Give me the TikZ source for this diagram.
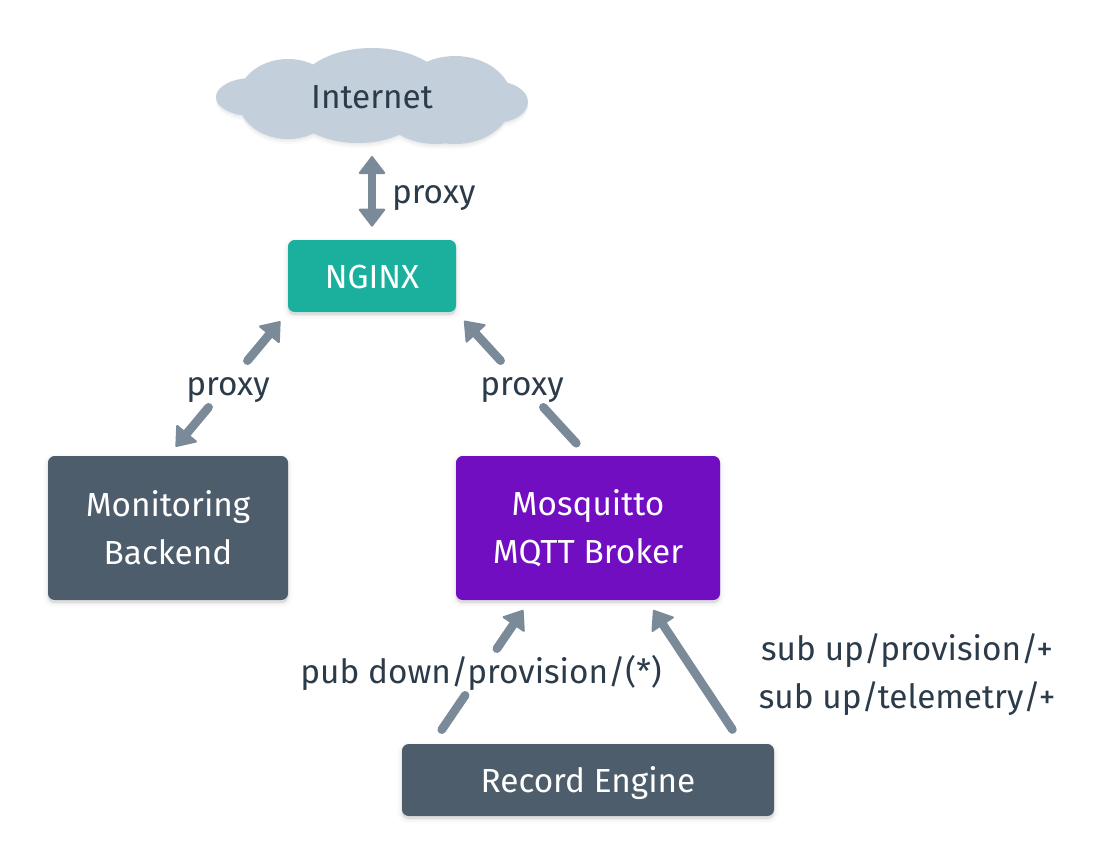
\documentclass[tikz,border=0pt]{standalone}
\usepackage{fontspec}
\setmainfont{Fira Sans}
\usetikzlibrary{arrows.meta, positioning, shadows, calc}
\definecolor{cloudcol}{HTML}{C3D0DB}
\definecolor{arrowcol}{HTML}{7B8A99}
\definecolor{textcol}{HTML}{2B3B4A}
\definecolor{tealcol}{HTML}{1AB09D}
\definecolor{slatecol}{HTML}{4D5D6B}
\definecolor{purplecol}{HTML}{720EC1}
\begin{document}
\begin{tikzpicture}[x=0.75pt, y=-0.75pt, font=\fontsize{25}{36}\selectfont, text=textcol, outer sep=0pt,
    softshadow/.style={
        general shadow={draw=black, fill=black, line width=1.5pt, opacity=.04, shadow yshift=-2pt},
        general shadow={draw=black, fill=black, line width=4pt, opacity=.025, shadow yshift=-2pt},
        general shadow={draw=black, fill=black, line width=7pt, opacity=.015, shadow yshift=-2pt}},
    cloudshadow/.style={
        general shadow={fill=black, opacity=.03, shadow yshift=-1pt},
        general shadow={fill=black, opacity=.03, shadow yshift=-2.5pt},
        general shadow={fill=black, opacity=.02, shadow yshift=-4pt}},
    box/.style={rounded corners=5pt, text=white, align=center, minimum height=54pt, softshadow},
    oneline/.style={text height=20pt, text depth=2pt},
    tipend/.tip={Triangle[round, length=14pt, width=21pt, line width=1.5pt]},
    wire/.style={draw=arrowcol, line width=6.5pt, line cap=round},
    link/.style={wire, -tipend},
    tag/.style={inner sep=0pt, minimum height=35pt, text height=24pt, text depth=6.8pt, text=textcol}]
    \useasboundingbox (0,0) rectangle (1116,864);
    \fill[cloudcol, cloudshadow]
        (252,97) ellipse (36 and 19)
        (288,99) ellipse (50 and 40)
        (372,93) ellipse (76 and 45)
        (358,100) ellipse (70 and 43)
        (455,100) ellipse (57 and 44)
        (436,105) ellipse (56 and 39)
        (494,102) ellipse (34 and 21);
    \node[oneline, minimum width=234pt, minimum height=72pt, inner sep=0pt] (internet) at (372,96) {Internet};
    \node[box, oneline, fill=tealcol, minimum width=126pt, below=72pt of internet] (nginx) {NGINX};
    \node[box, fill=slatecol, minimum width=180pt, minimum height=108pt,
        below=108pt of nginx.south west, anchor=north east] (monitor) {Monitoring\\Backend};
    \node[box, fill=purplecol, minimum width=198pt, minimum height=108pt,
        below=108pt of nginx.south east, anchor=north west] (mosquitto) {Mosquitto\\MQTT Broker};
    \node[box, oneline, fill=slatecol, minimum width=279pt, below=108pt of mosquitto] (engine) {Record Engine};
    \coordinate (pubfrom) at ([xshift=22.5pt]engine.north west);
    \coordinate (pubto) at ([xshift=55.5pt]mosquitto.south west);
    \coordinate (subfrom) at ([xshift=-24pt]engine.north east);
    \coordinate (subto) at ([xshift=-55pt]mosquitto.south east);
    \node[tag] (proxyleft) at ($(nginx.south west)!.5!(monitor.north)$) {proxy};
    \node[tag] (proxyright) at ($(nginx.south east)!.5!(mosquitto.north)$) {proxy};
    \node[tag] (pubtag) at ($(pubfrom)!.5!(pubto)$) {pub down/provision/(*)};
    \draw[wire, {tipend}-{tipend}, shorten <=9pt, shorten >=10pt] (internet.south) -- node[tag, right=15pt] {proxy} (nginx.north);
    \draw[link, shorten >=9pt] (proxyleft) -- (nginx.south west);
    \draw[link, shorten >=9pt] (proxyleft) -- (monitor.north);
    \draw[link, shorten >=9pt] (proxyright) -- (nginx.south east);
    \draw[wire, shorten >=13pt] (proxyright) -- (mosquitto.north);
    \draw[link, shorten >=9pt] (pubtag) -- (pubto);
    \draw[wire, shorten >=13pt] (pubtag) -- (pubfrom);
    \draw[link, shorten <=13pt, shorten >=9pt] (subfrom) -- node[right=45pt, yshift=-2.25pt, align=center, text=textcol] {sub up/provision/+\\sub up/telemetry/+} (subto);
\end{tikzpicture}
\end{document}
